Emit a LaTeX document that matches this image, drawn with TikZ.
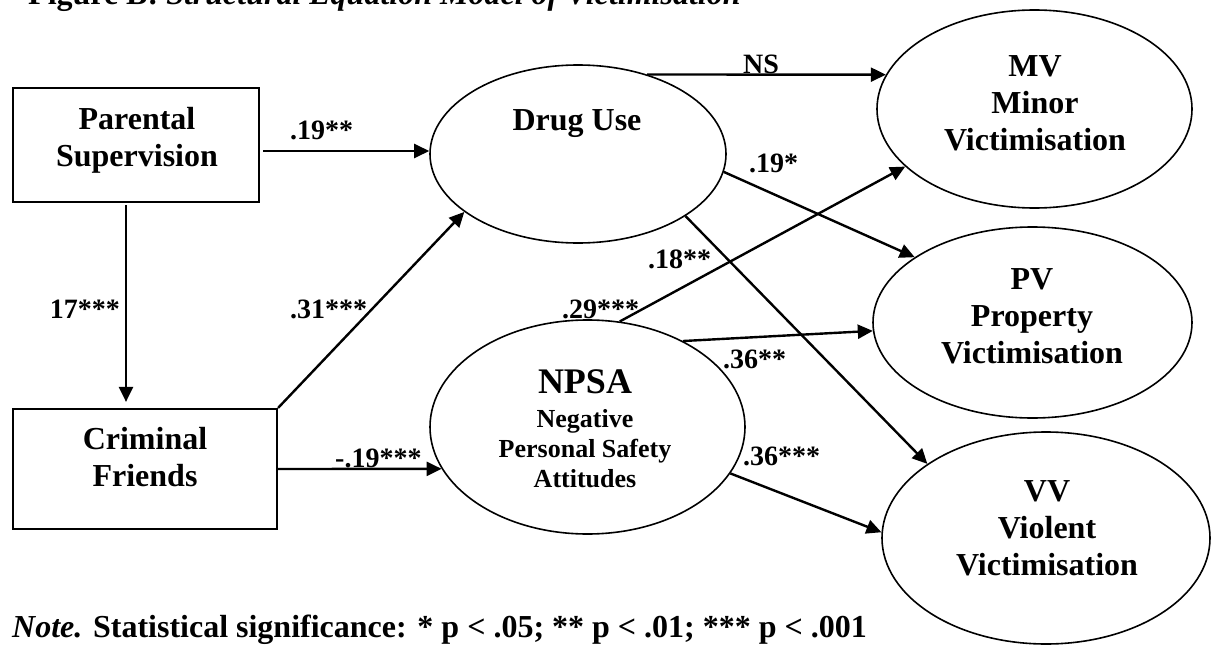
\documentclass[tikz,border=0pt]{standalone}
\usepackage{fontspec}
\setmainfont{Liberation Serif}
\usetikzlibrary{arrows.meta,shapes.geometric,calc}
\begin{document}
\begin{tikzpicture}[x=1pt,y=-1pt,
  box/.style={draw,line width=2.2pt,inner sep=0pt},
  oval/.style={draw,ellipse,line width=1.6pt,inner sep=0pt},
  txt/.style={inner sep=0pt,align=center,font=\fontsize{32}{37}\selectfont\bfseries},
  sub/.style={inner sep=0pt,align=center,font=\fontsize{26}{30}\selectfont\bfseries},
  lbl/.style={inner sep=0pt,font=\fontsize{28}{32}\selectfont\bfseries},
  arr/.style={line width=2.4pt,-{Triangle[length=15pt,width=14pt]}},
]
\useasboundingbox (0,0) rectangle (1216,645);

% boxes
\node[box,minimum width=246pt,minimum height=114pt] (PS) at (136,145) {};
\node[box,minimum width=264pt,minimum height=120pt] (CF) at (145,469) {};
\node[txt,anchor=north] (PSt) at (137,107.3) {Parental\\Supervision};
\node[txt,anchor=north] (CFt) at (145,427.3) {Criminal\\Friends};

% ellipses
\node[oval,minimum width=296pt,minimum height=178pt] (DU) at (578,154) {};
\node[oval,minimum width=315pt,minimum height=214pt] (NPSA) at (587.5,427) {};
\node[oval,minimum width=315pt,minimum height=198pt] (MV) at (1034.5,109) {};
\node[oval,minimum width=319pt,minimum height=191pt] (PV) at (1032.5,322.5) {};
\node[oval,minimum width=328pt,minimum height=212pt] (VV) at (1046,538) {};

\node[txt,anchor=base] (DUt) at (577,130) {Drug Use};
\node[inner sep=0pt,font=\fontsize{36}{40}\selectfont\bfseries,anchor=base] (NPSAt) at (585,393) {NPSA};
\node[sub,anchor=north] (NPSAs) at (585,409.4) {Negative\\Personal Safety\\Attitudes};
\node[txt,anchor=north] (MVt) at (1035,55.3) {MV\\Minor\\Victimisation};
\node[txt,anchor=north] (PVt) at (1032,268.3) {PV\\Property\\Victimisation};
\node[txt,anchor=north] (VVt) at (1047,480.3) {VV\\Violent\\Victimisation};

% connectors
\draw[arr,shorten <=2pt,shorten >=6pt] ([xshift=-10pt]PS.south) -- ([xshift=-19pt]CF.north);
\draw[arr,shorten <=3pt] ([yshift=-6pt]PS.east) -- ([yshift=3pt]DU.west);
\draw[arr] (CF.north east) -- (DU.207);
\draw[arr] (CF.east) -- (NPSA.196);
\draw[arr] (DU.49) -- (MV.167);
\draw[arr] (DU.353) -- (PV.151);
\draw[arr] (DU.330) -- (VV.148);
\draw[arr] (NPSA.73) -- (MV.204);
\draw[arr] (NPSA.42) -- (PV.183);
\draw[arr] (NPSA.342) -- (VV.178);

% labels
\node[lbl,anchor=base west] (l1) at (290,139) {.19**};
\node[lbl,anchor=base east] (l2) at (120,318) {17***};
\node[lbl,anchor=base west] (l3) at (290,318) {.31***};
\node[lbl,anchor=base west] (l4) at (335,467) {-.19***};
\node[lbl,anchor=base west] (l5) at (743,73) {NS};
\node[lbl,anchor=base west] (l6) at (749,172) {.19*};
\node[lbl,anchor=base west] (l7) at (648,268) {.18**};
\node[lbl,anchor=base west] (l8) at (562,318) {.29***};
\node[lbl,anchor=base west] (l9) at (723,368) {.36**};
\node[lbl,anchor=base west] (l10) at (743,465) {.36***};

% title and note
\node[inner sep=0pt,anchor=base west,font=\fontsize{32}{37}\selectfont\bfseries] (title) at (28,5) {Figure B: \textit{Structural Equation Model of Victimisation}};
\node[inner sep=0pt,anchor=base west,font=\fontsize{32}{37}\selectfont\bfseries] (note) at (12,637) {\textit{Note.} Statistical significance: * p < .05; ** p < .01; *** p < .001};
\end{tikzpicture}
\end{document}
